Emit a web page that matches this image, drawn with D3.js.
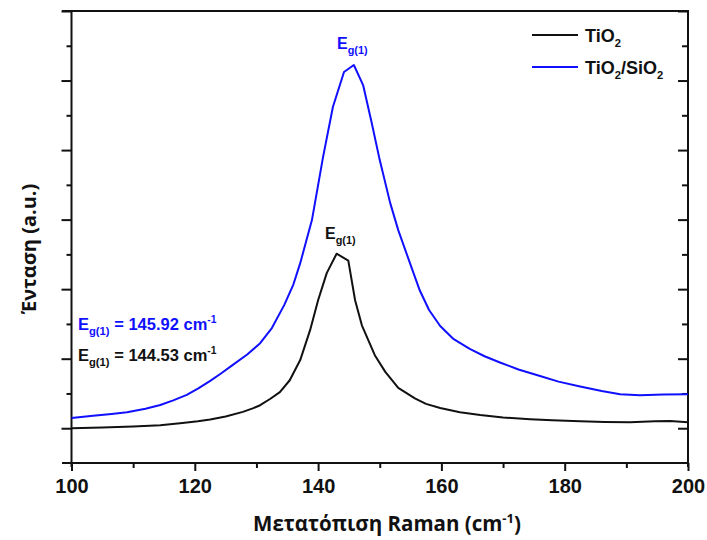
<!DOCTYPE html>
<html>
<head>
<meta charset="utf-8">
<script src="https://cdn.jsdelivr.net/npm/d3@7"></script>
<style>
  html, body { margin: 0; padding: 0; background: #fff; }
  svg { display: block; }
  .tick-label { font-family: "Liberation Sans Narrow", "Arial Narrow", "Liberation Sans", Arial, sans-serif; font-weight: bold; font-stretch: condensed; }
  .title { font-family: "Open Sans", "Noto Sans", sans-serif; font-weight: 700; }
  .lbl { font-family: "Liberation Sans", Arial, sans-serif; font-weight: bold; }
</style>
</head>
<body>
<svg id="chart" width="707" height="540"></svg>
<script>
// Raman shift (cm-1) and intensity (a.u.) for pure TiO2
const tio2Shift = [100.0, 105.0, 110.0, 114.4, 118.0, 120.5, 122.5, 125.0, 127.8, 129.5, 130.6, 132.2, 133.8, 135.4, 137.1, 138.7, 140.0, 141.4, 143.0, 144.9, 146.0, 147.1, 149.2, 150.9, 153.0, 155.7, 157.5, 159.8, 163.0, 166.3, 170.0, 174.4, 178.0, 182.5, 186.5, 190.6, 194.6, 197.1, 200.0];
const tio2Intensity = [0.00, 0.01, 0.025, 0.043, 0.075, 0.10, 0.125, 0.17, 0.235, 0.29, 0.331, 0.42, 0.52, 0.69, 0.98, 1.41, 1.84, 2.23, 2.51, 2.41, 1.84, 1.48, 1.05, 0.81, 0.58, 0.43, 0.35, 0.29, 0.23, 0.19, 0.155, 0.13, 0.115, 0.10, 0.09, 0.085, 0.10, 0.105, 0.085];

// Raman shift (cm-1) and intensity (a.u.) for the TiO2/SiO2 composite
const compShift = [100.0, 103.5, 106.5, 109.0, 112.0, 114.4, 116.5, 118.7, 120.5, 122.5, 124.3, 126.0, 128.5, 130.6, 132.5, 134.5, 136.0, 137.1, 139.0, 140.8, 142.4, 144.2, 145.8, 147.3, 148.7, 150.0, 151.7, 153.0, 154.9, 156.5, 158.0, 159.8, 162.0, 164.6, 167.0, 169.5, 172.5, 176.0, 179.0, 182.5, 186.0, 189.0, 192.2, 196.0, 200.0];
const compIntensity = [0.148, 0.18, 0.205, 0.23, 0.28, 0.335, 0.40, 0.48, 0.57, 0.68, 0.79, 0.90, 1.06, 1.223, 1.44, 1.77, 2.07, 2.374, 2.993, 3.899, 4.619, 5.122, 5.223, 4.935, 4.388, 3.856, 3.237, 2.849, 2.374, 1.98, 1.70, 1.47, 1.28, 1.14, 1.035, 0.945, 0.845, 0.75, 0.67, 0.60, 0.535, 0.49, 0.475, 0.485, 0.49];

// Axis ticks
const xMajorTicks = [100, 120, 140, 160, 180, 200];
const xMinorTicks = [110, 130, 150, 170, 190];
const yMajorTicks = [0, 1, 2, 3, 4, 5, 6];
const yMinorTicks = [0.5, 1.5, 2.5, 3.5, 4.5, 5.5];

const seriesColors = ["#111111", "#1010ff"];

const svg = d3.select("#chart");
const plotLeft = 71.5, plotRight = 688, plotTop = 11, plotBottom = 463;

const x = d3.scaleLinear().domain([100, 200]).range([plotLeft, plotRight]);
const y = d3.scaleLinear().domain([-0.5, 6]).range([plotBottom, plotTop]);

const axisColor = "#111";

// Frame lines
svg.append("line").attr("x1", 62).attr("x2", plotRight).attr("y1", plotTop).attr("y2", plotTop)
  .attr("stroke", axisColor).attr("stroke-width", 2);
svg.append("line").attr("x1", 62).attr("x2", plotRight).attr("y1", plotBottom).attr("y2", plotBottom)
  .attr("stroke", axisColor).attr("stroke-width", 2);
svg.append("line").attr("x1", plotLeft).attr("x2", plotLeft).attr("y1", plotTop).attr("y2", plotBottom + 4)
  .attr("stroke", axisColor).attr("stroke-width", 2);
svg.append("line").attr("x1", plotRight).attr("x2", plotRight).attr("y1", plotTop - 1).attr("y2", plotBottom + 4)
  .attr("stroke", axisColor).attr("stroke-width", 2);

function styleAxis(g) {
  g.select(".domain").remove();
  g.selectAll(".tick line").attr("stroke", axisColor).attr("stroke-width", 2);
}

// Bottom axis
svg.append("g").attr("transform", `translate(0,${plotBottom})`)
  .call(d3.axisBottom(x).tickValues(xMajorTicks).tickSize(8).tickPadding(8).tickFormat(d3.format("d")))
  .call(styleAxis)
  .call(g => g.selectAll("text").attr("class", "tick-label").attr("font-size", 20).attr("fill", "#111"));
svg.append("g").attr("transform", `translate(0,${plotBottom})`)
  .call(d3.axisBottom(x).tickValues(xMinorTicks).tickSize(5).tickFormat(""))
  .call(styleAxis);

// Left axis (outward ticks, no labels)
svg.append("g").attr("transform", `translate(${plotLeft},0)`)
  .call(d3.axisLeft(y).tickValues(yMajorTicks).tickSize(10).tickFormat(""))
  .call(styleAxis);
svg.append("g").attr("transform", `translate(${plotLeft},0)`)
  .call(d3.axisLeft(y).tickValues(yMinorTicks).tickSize(5).tickFormat(""))
  .call(styleAxis);

// Right axis (inward ticks)
svg.append("g").attr("transform", `translate(${plotRight},0)`)
  .call(d3.axisRight(y).tickValues(yMajorTicks).tickSize(-10).tickFormat(""))
  .call(styleAxis);
svg.append("g").attr("transform", `translate(${plotRight},0)`)
  .call(d3.axisRight(y).tickValues(yMinorTicks).tickSize(-6).tickFormat(""))
  .call(styleAxis);

// Spectra
const line = d3.line().x(d => x(d[0])).y(d => y(d[1]));
const tio2 = d3.zip(tio2Shift, tio2Intensity);
const comp = d3.zip(compShift, compIntensity);

svg.append("path").datum(tio2).attr("d", line)
  .attr("fill", "none").attr("stroke", seriesColors[0]).attr("stroke-width", 2).attr("stroke-linejoin", "round");
svg.append("path").datum(comp).attr("d", line)
  .attr("fill", "none").attr("stroke", seriesColors[1]).attr("stroke-width", 2).attr("stroke-linejoin", "round");

// Axis titles
svg.append("text").attr("class", "title").attr("x", 387).attr("y", 531)
  .attr("text-anchor", "middle").attr("font-size", 20.5).attr("fill", "#111")
  .call(t => {
    t.append("tspan").text("Μετατόπιση Raman (cm");
    t.append("tspan").attr("font-size", 13).attr("dy", -8).text("-1");
    t.append("tspan").attr("dy", 8).text(")");
  });

svg.append("text").attr("class", "title")
  .attr("transform", "translate(36,249) rotate(-90)")
  .attr("text-anchor", "middle").attr("font-size", 20).attr("fill", "#111")
  .text("Ένταση (a.u.)");

// Chemical names with subscripts: each part shifts the baseline relative to the previous one
function chem(t, parts, size) {
  let shift = 0;
  parts.forEach(p => {
    const target = p.sub ? size * 0.3 : 0;
    t.append("tspan")
      .attr("font-size", p.sub ? size * 0.62 : size)
      .attr("dy", target - shift)
      .text(p.s);
    shift = target;
  });
}

// Legend
const legendRows = [
  { y: 35, parts: [{ s: "TiO" }, { s: "2", sub: true }] },
  { y: 67, parts: [{ s: "TiO" }, { s: "2", sub: true }, { s: "/SiO" }, { s: "2", sub: true }] }
];
legendRows.forEach((row, i) => {
  svg.append("line").attr("x1", 532).attr("x2", 578).attr("y1", row.y).attr("y2", row.y)
    .attr("stroke", seriesColors[i]).attr("stroke-width", 2);
  const t = svg.append("text").attr("class", "lbl").attr("x", 585).attr("y", row.y + 7)
    .attr("font-size", 18).attr("fill", "#111");
  chem(t, row.parts, 18);
});

// E_g(1) label helper
function egLabel(xp, yp, color, size, tail) {
  const t = svg.append("text").attr("class", "lbl").attr("x", xp).attr("y", yp)
    .attr("font-size", size).attr("fill", color);
  t.append("tspan").text("E");
  t.append("tspan").attr("font-size", size * 0.68).attr("dy", size * 0.3).text("g(1)");
  if (tail) {
    t.append("tspan").attr("font-size", size).attr("dy", -size * 0.3).text(" = " + tail + " cm");
    t.append("tspan").attr("font-size", size * 0.62).attr("dy", -size * 0.4).text("-1");
  }
  return t;
}

egLabel(337, 49, seriesColors[1], 16);
egLabel(325, 239, seriesColors[0], 16);
egLabel(78, 330, seriesColors[1], 16.5, "145.92");
egLabel(78, 361, seriesColors[0], 16.5, "144.53");
</script>
</body>
</html>
